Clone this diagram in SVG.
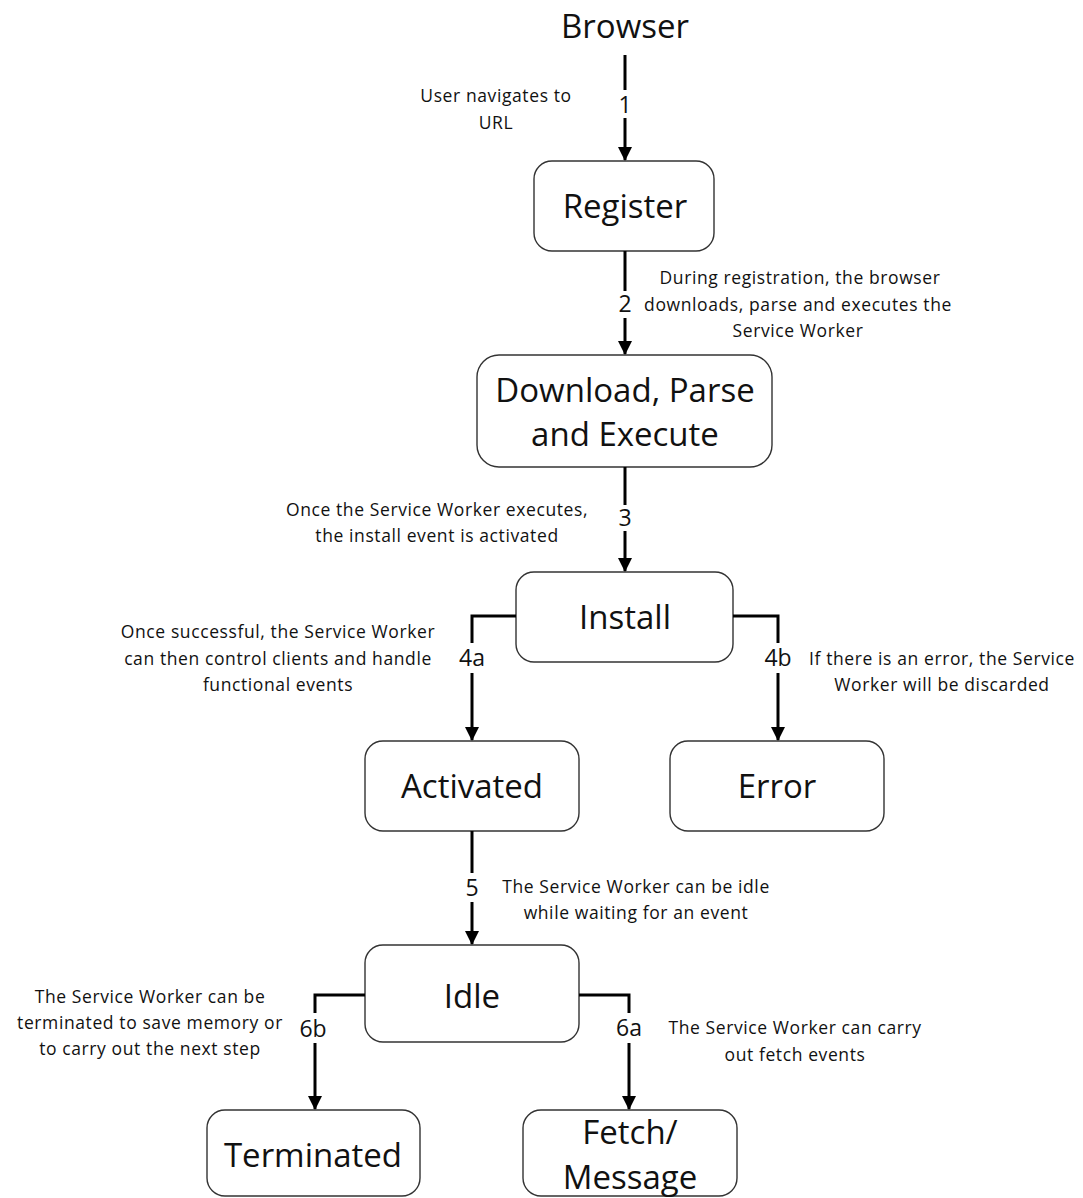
<svg xmlns="http://www.w3.org/2000/svg" width="1083" height="1198" viewBox="0 0 1083 1198">
<defs>
<marker id="ah" markerUnits="userSpaceOnUse" markerWidth="14" markerHeight="16" refX="13" refY="7" orient="auto">
<path d="M0,0 L14,7 L0,14 Z" fill="#000"/>
</marker>
<style>
.box{fill:#fff;stroke:#333;stroke-width:1.4}
.bt{font-family:"Open Sans","Liberation Sans",sans-serif;font-size:33px;fill:#111;text-anchor:middle}
.cap{font-family:"Open Sans","Liberation Sans",sans-serif;font-size:17.5px;letter-spacing:0.6px;fill:#111}
.num{font-family:"Open Sans","Liberation Sans",sans-serif;font-size:23px;fill:#111;text-anchor:middle}
.ln{fill:none;stroke:#000;stroke-width:3}
.mid{text-anchor:middle}
</style>
</defs>
<rect width="1083" height="1198" fill="#fff"/>
<g id="browser"><text class="bt" x="625" y="38">Browser</text></g>
<g id="register"><rect class="box" x="534" y="161" width="180" height="90" rx="18"/><text class="bt" x="625" y="218">Register</text></g>
<g id="download"><rect class="box" x="477" y="355" width="295" height="112" rx="22"/><text class="bt" x="625" y="402">Download, Parse</text><text class="bt" x="625" y="446">and Execute</text></g>
<g id="install"><rect class="box" x="516" y="572" width="217" height="90" rx="18"/><text class="bt" x="625" y="629">Install</text></g>
<g id="activated"><rect class="box" x="365" y="741" width="214" height="90" rx="18"/><text class="bt" x="472" y="798">Activated</text></g>
<g id="error"><rect class="box" x="670" y="741" width="214" height="90" rx="18"/><text class="bt" x="777" y="798">Error</text></g>
<g id="idle"><rect class="box" x="365" y="945" width="214" height="97" rx="18"/><text class="bt" x="472" y="1008">Idle</text></g>
<g id="terminated"><rect class="box" x="207" y="1110" width="213" height="86" rx="18"/><text class="bt" x="313" y="1167">Terminated</text></g>
<g id="fetch"><rect class="box" x="523" y="1110" width="214" height="86" rx="18"/><text class="bt" x="630" y="1144">Fetch/</text><text class="bt" x="630" y="1189">Message</text></g>
<g id="connectors">
<path class="ln" d="M625,55 V90"/><path class="ln" d="M625,118 V160" marker-end="url(#ah)"/>
<path class="ln" d="M625,251 V291"/><path class="ln" d="M625,318 V354" marker-end="url(#ah)"/>
<path class="ln" d="M625,467 V505"/><path class="ln" d="M625,531 V571" marker-end="url(#ah)"/>
<path class="ln" d="M516,616 H472 V643"/><path class="ln" d="M472,673 V740" marker-end="url(#ah)"/>
<path class="ln" d="M733,616 H778 V643"/><path class="ln" d="M778,673 V740" marker-end="url(#ah)"/>
<path class="ln" d="M472,831 V873"/><path class="ln" d="M472,902 V944" marker-end="url(#ah)"/>
<path class="ln" d="M365,995 H315 V1013"/><path class="ln" d="M315,1043 V1109" marker-end="url(#ah)"/>
<path class="ln" d="M579,995 H629 V1013"/><path class="ln" d="M629,1043 V1109" marker-end="url(#ah)"/>
<text class="num" x="625" y="113">1</text>
<text class="num" x="625" y="312">2</text>
<text class="num" x="625" y="526">3</text>
<text class="num" x="472" y="666">4a</text>
<text class="num" x="778" y="666">4b</text>
<text class="num" x="472" y="896">5</text>
<text class="num" x="313" y="1037">6b</text>
<text class="num" x="629" y="1036">6a</text>
<text class="cap mid" x="496" y="102">User navigates to</text>
<text class="cap mid" x="496" y="129">URL</text>
<text class="cap mid" x="800" y="284">During registration, the browser</text>
<text class="cap mid" x="798" y="311">downloads, parse and executes the</text>
<text class="cap mid" x="798" y="337">Service Worker</text>
<text class="cap mid" x="437" y="516">Once the Service Worker executes,</text>
<text class="cap mid" x="437" y="542">the install event is activated</text>
<text class="cap mid" x="278" y="638">Once successful, the Service Worker</text>
<text class="cap mid" x="278" y="665">can then control clients and handle</text>
<text class="cap mid" x="278" y="691">functional events</text>
<text class="cap mid" x="942" y="665">If there is an error, the Service</text>
<text class="cap mid" x="942" y="691">Worker will be discarded</text>
<text class="cap mid" x="636" y="893">The Service Worker can be idle</text>
<text class="cap mid" x="636" y="919">while waiting for an event</text>
<text class="cap mid" x="150" y="1003">The Service Worker can be</text>
<text class="cap mid" x="150" y="1029">terminated to save memory or</text>
<text class="cap mid" x="150" y="1055">to carry out the next step</text>
<text class="cap mid" x="795" y="1034">The Service Worker can carry</text>
<text class="cap mid" x="795" y="1061">out fetch events</text>
</g>
</svg>
